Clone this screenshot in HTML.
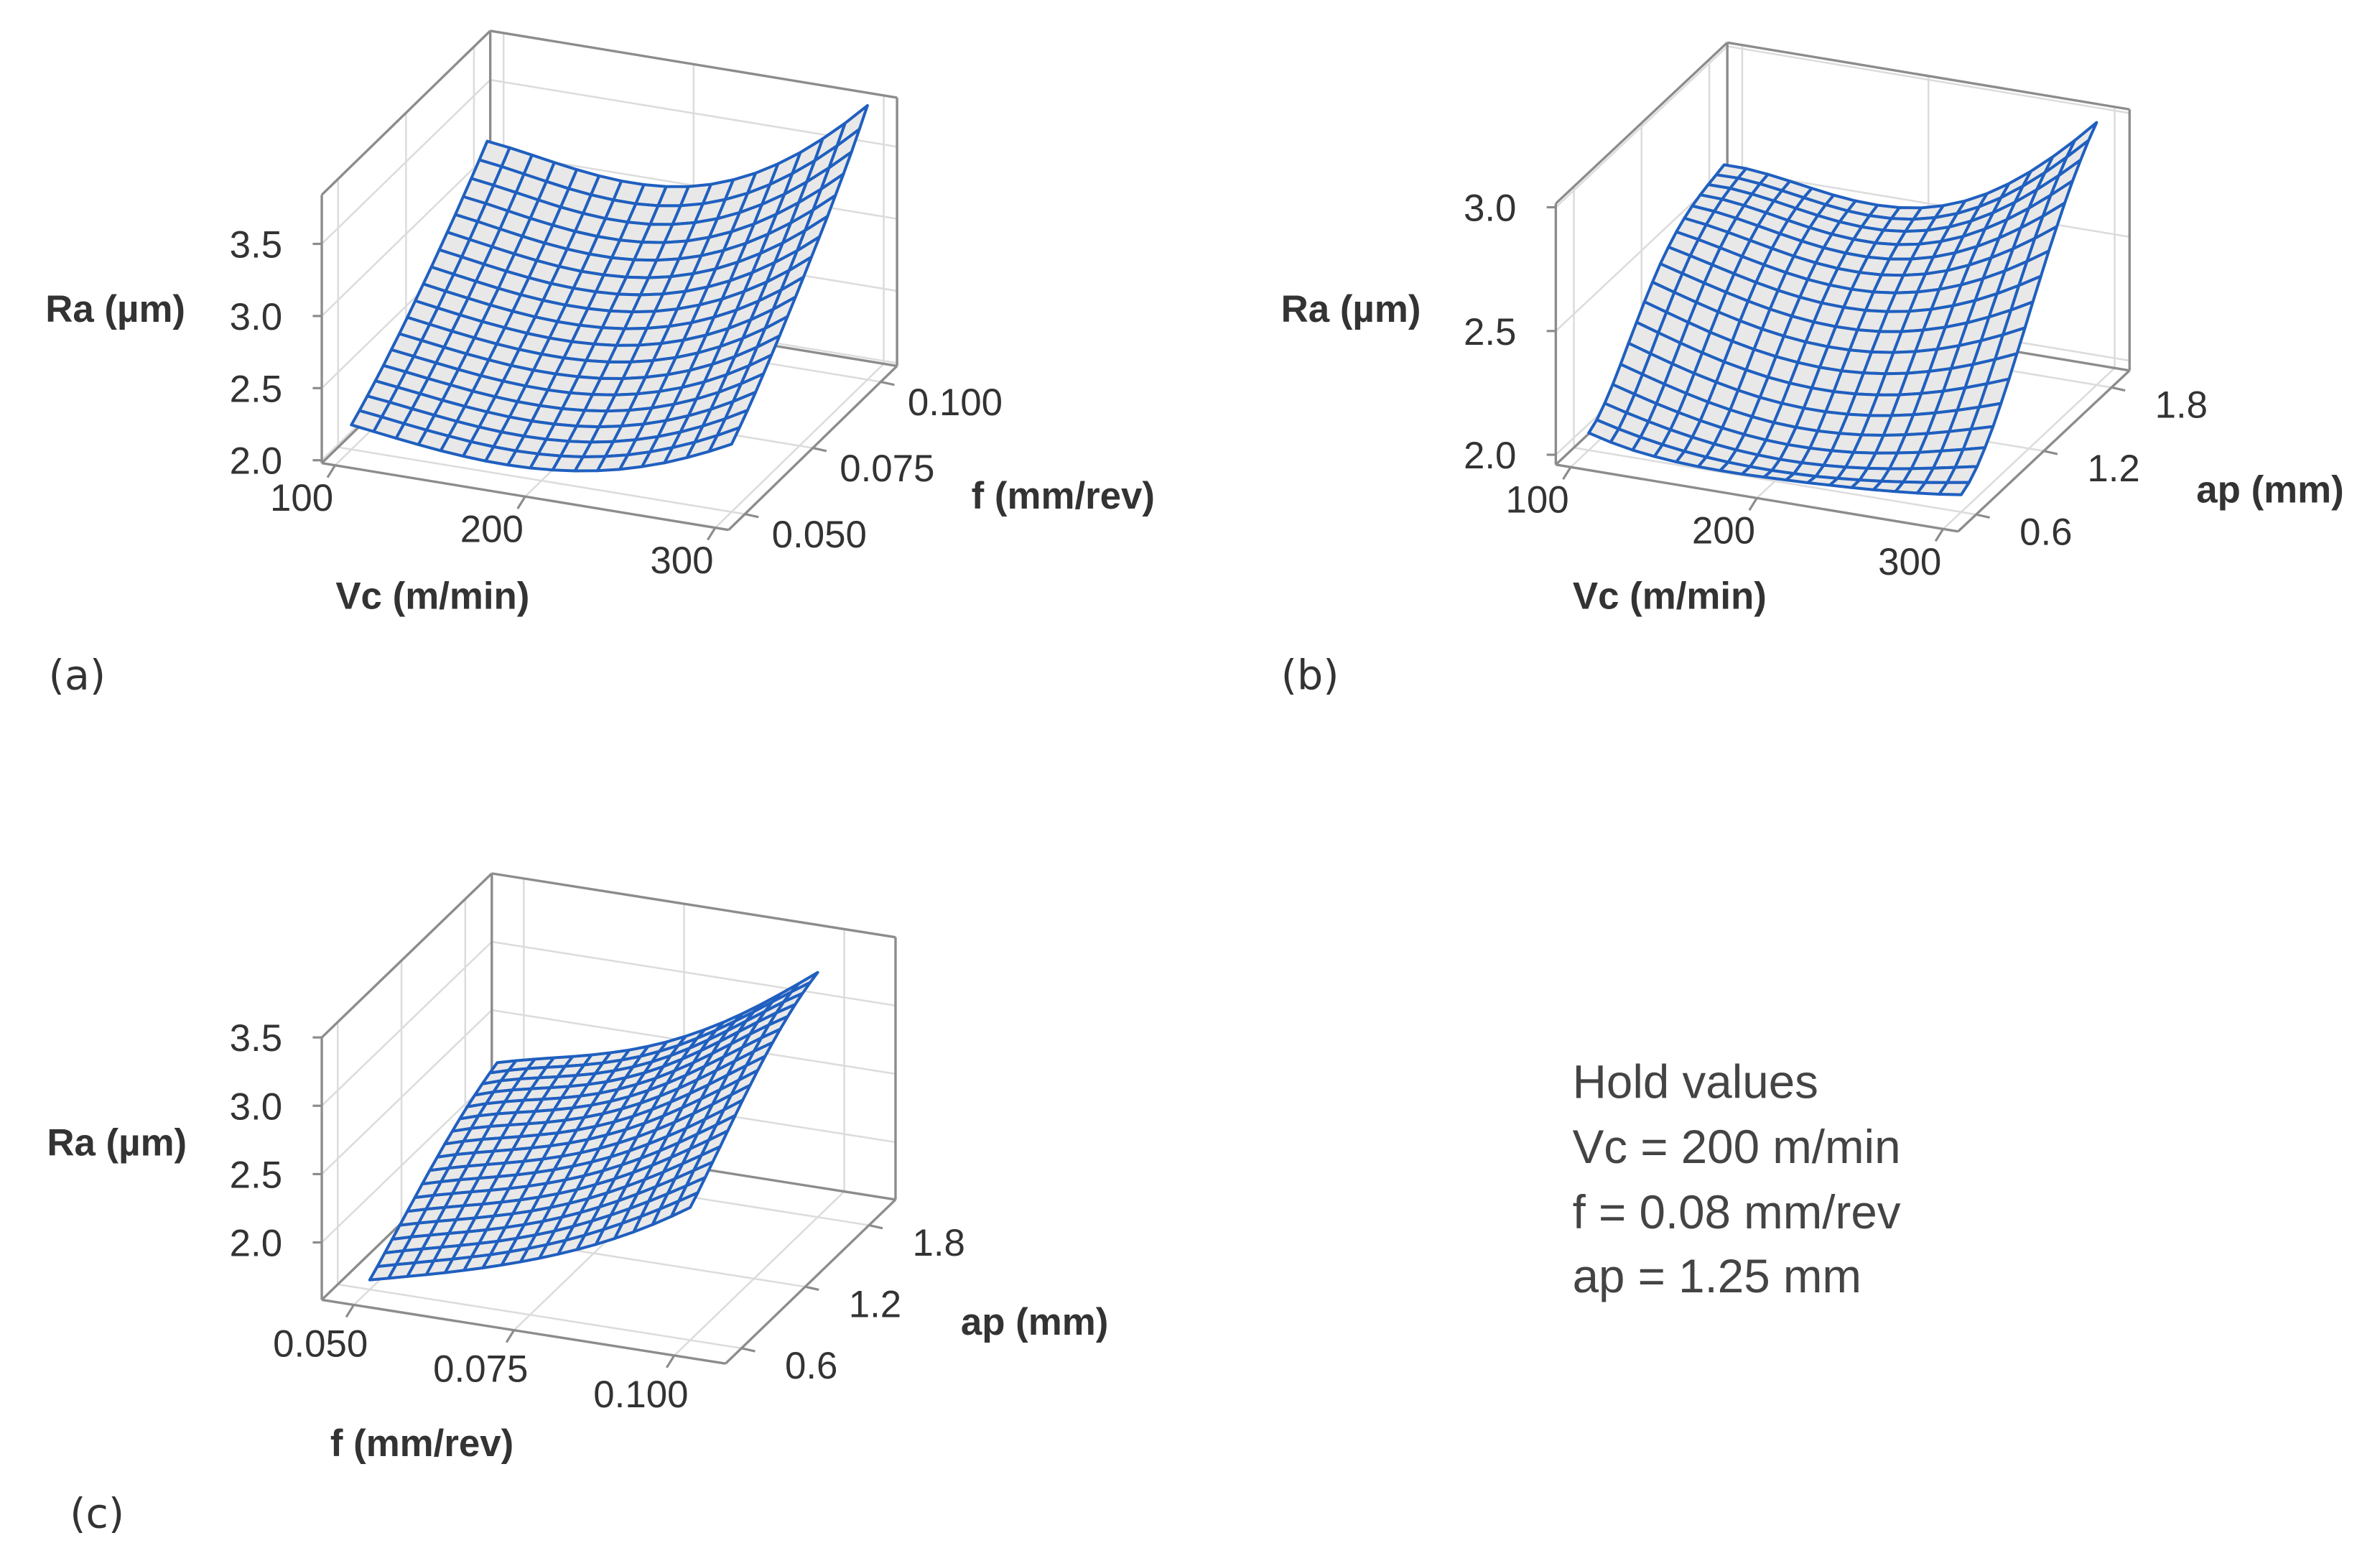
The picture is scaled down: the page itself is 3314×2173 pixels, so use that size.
<!DOCTYPE html>
<html><head><meta charset="utf-8"><style>
html,body{margin:0;padding:0;background:#fff;}
svg{display:block;}
text{font-family:"Liberation Sans",Arial,sans-serif;}
</style></head><body>
<svg id="fig" xmlns="http://www.w3.org/2000/svg" width="3314" height="2173" viewBox="0 0 1568 1028" preserveAspectRatio="none">
<rect x="0" y="0" width="1568" height="1028" fill="#fff"/>
<g id="pa"></g>
<g id="pb"></g>
<g id="pc"></g>
<text x="32" y="454" font-size="27" fill="#333" style="font-family:'DejaVu Sans',sans-serif">(a)</text>
<text x="844" y="454" font-size="27" fill="#333" style="font-family:'DejaVu Sans',sans-serif">(b)</text>
<text x="46" y="1006" font-size="27" fill="#333" style="font-family:'DejaVu Sans',sans-serif">(c)</text>
<g font-size="31" fill="#444" style="font-family:'DejaVu Sans',sans-serif">
<text x="1036" y="723">Hold values</text>
<text x="1036" y="766">Vc = 200 m/min</text>
<text x="1036" y="809">f = 0.08 mm/rev</text>
<text x="1036" y="851">ap = 1.25 mm</text>
</g>
</svg>
<script>
// ---------- Panel (a): Ra vs Vc, f ----------
const aVc = [100,150,200,250,300];
const aF = [0.05,0.0625,0.075,0.0875,0.1];
const aRa = [ // rows: Vc, cols: f
 [2.15,2.36,2.61,2.89,3.20],
 [2.07,2.28,2.52,2.79,3.10],
 [2.06,2.27,2.52,2.79,3.10],
 [2.18,2.41,2.69,3.00,3.35],
 [2.45,2.74,3.08,3.45,3.88]];
const aUTicks = [100,200,300];
const aVTicks = [0.05,0.075,0.1];
const aUTickLabels = ["100","200","300"];
const aVTickLabels = ["0.050","0.075","0.100"];
const aZTicks = [2.0,2.5,3.0,3.5];
const aZTickLabels = ["2.0","2.5","3.0","3.5"];

// ---------- Panel (b): Ra vs Vc, ap ----------
const bVc = [100,150,200,250,300];
const bAp = [0.6,0.9,1.2,1.5,1.8];
const bRa = [
 [2.03,2.20,2.42,2.55,2.60],
 [1.97,2.10,2.32,2.49,2.56],
 [1.97,2.06,2.28,2.46,2.55],
 [1.99,2.10,2.34,2.56,2.70],
 [2.03,2.20,2.50,2.80,3.02]];
const bUTicks = [100,200,300];
const bVTicks = [0.6,1.2,1.8];
const bUTickLabels = ["100","200","300"];
const bVTickLabels = ["0.6","1.2","1.8"];
const bZTicks = [2.0,2.5,3.0];
const bZTickLabels = ["2.0","2.5","3.0"];

// ---------- Panel (c): Ra vs f, ap ----------
const cF = [0.05,0.0625,0.075,0.0875,0.1];
const cAp = [0.6,0.9,1.2,1.5,1.8];
const cRa = [
 [1.65,1.85,2.05,2.22,2.34],
 [1.80,2.00,2.20,2.37,2.48],
 [1.98,2.18,2.38,2.55,2.66],
 [2.22,2.45,2.67,2.87,2.96],
 [2.55,2.80,3.05,3.25,3.37]];
const cUTicks = [0.05,0.075,0.1];
const cVTicks = [0.6,1.2,1.8];
const cUTickLabels = ["0.050","0.075","0.100"];
const cVTickLabels = ["0.6","1.2","1.8"];
const cZTicks = [2.0,2.5,3.0,3.5];
const cZTickLabels = ["2.0","2.5","3.0","3.5"];

const NS="http://www.w3.org/2000/svg";
function mk(tag, attrs, parent){const e=document.createElementNS(NS,tag);for(const k in attrs)e.setAttribute(k,attrs[k]);parent.appendChild(e);return e;}

function lagr(nodes, vals, x){
  let s=0;
  for(let i=0;i<nodes.length;i++){let p=vals[i];for(let j=0;j<nodes.length;j++){if(j!==i)p*=(x-nodes[j])/(nodes[i]-nodes[j]);}s+=p;}
  return s;
}
function interp2(us, vs, grid, u, v){
  const col = us.map((_,i)=>lagr(vs, grid[i], v));
  return lagr(us, col, u);
}

function drawPanel(g, cfg){
  const P=(u,v,z)=>{
    const tu=(u-cfg.u0)/(cfg.u1-cfg.u0), tv=(v-cfg.v0)/(cfg.v1-cfg.v0);
    return [cfg.O[0]+tu*cfg.U[0]+tv*cfg.V[0], cfg.O[1]+tu*cfg.U[1]+tv*cfg.V[1]-(z-cfg.zmin)*cfg.zppu];
  };
  const L=(a,b,stroke,w,name)=>{const l=mk('line',{x1:a[0],y1:a[1],x2:b[0],y2:b[1],stroke:stroke,'stroke-width':w},g);
    
    
    return l;};
  const {u0,u1,v0,v1,zmin,zmax}=cfg;
  const grid='#dcdcdc', edge='#8c8c8c';
  cfg.zTicks.forEach(z=>{L(P(u0,v0,z),P(u0,v1,z),grid,1.2,'gridline-z');L(P(u0,v1,z),P(u1,v1,z),grid,1.2,'gridline-z');});
  cfg.uTicks.forEach(u=>{L(P(u,v1,zmin),P(u,v1,zmax),grid,1.2,'gridline-x');L(P(u,v0,zmin),P(u,v1,zmin),grid,1.2,'gridline-x');});
  cfg.vTicks.forEach(v=>{L(P(u0,v,zmin),P(u0,v,zmax),grid,1.2,'gridline-y');L(P(u0,v,zmin),P(u1,v,zmin),grid,1.2,'gridline-y');});
  const E=[[[u0,v0,zmin],[u1,v0,zmin]],[[u1,v0,zmin],[u1,v1,zmin]],[[u0,v0,zmin],[u0,v1,zmin]],[[u0,v1,zmin],[u1,v1,zmin]],
           [[u0,v0,zmin],[u0,v0,zmax]],[[u0,v1,zmin],[u0,v1,zmax]],[[u1,v1,zmin],[u1,v1,zmax]],
           [[u0,v0,zmax],[u0,v1,zmax]],[[u0,v1,zmax],[u1,v1,zmax]]];
  E.forEach(e=>L(P(...e[0]),P(...e[1]),edge,1.6,'box-edge'));
  cfg.zTicks.forEach((z,i)=>{const p=P(u0,v0,z);L([p[0]-6,p[1]],p,edge,1.5,'z-tick');
    const t=mk('text',{x:p[0]-cfg.zlabDx,y:p[1]+9,'font-size':25,'text-anchor':'end',fill:'#333'},g);t.textContent=cfg.zLabels[i];
    
    });
  cfg.uTicks.forEach((u,i)=>{const p=P(u,v0,zmin);L(p,[p[0]-5,p[1]+8],edge,1.5,'x-tick');
    const t=mk('text',{x:p[0]+cfg.ulab[0],y:p[1]+cfg.ulab[1],'font-size':25,'text-anchor':'middle',fill:'#333'},g);t.textContent=cfg.uLabels[i];
    
    });
  cfg.vTicks.forEach((v,i)=>{const p=P(u1,v,zmin);L(p,[p[0]+9,p[1]+2],edge,1.5,'y-tick');
    const t=mk('text',{x:p[0]+cfg.vlab[0],y:p[1]+cfg.vlab[1],'font-size':25,'text-anchor':'middle',fill:'#333'},g);t.textContent=cfg.vLabels[i];
    
    });
  cfg.titles.forEach(tt=>{const t=mk('text',{x:tt[0],y:tt[1],'font-size':25,'font-weight':'bold','text-anchor':tt[3]||'middle',fill:'#333'},g);t.textContent=tt[2];
    
    });
  const N=18, us=cfg.us, vs=cfg.vs;
  const gu=[],gv=[];
  for(let i=0;i<N;i++){gu.push(us[0]+(us[us.length-1]-us[0])*i/(N-1));gv.push(vs[0]+(vs[vs.length-1]-vs[0])*i/(N-1));}
  const pts=gu.map(u=>gv.map(v=>P(u,v,interp2(us,vs,cfg.Z,u,v))));
  const quads=[];
  for(let i=0;i<N-1;i++)for(let j=0;j<N-1;j++){quads.push({i,j,d:(j)-(i)*0.6});}
  quads.sort((a,b)=>b.d-a.d);
  const sg=mk('g',{},g);
  
  
  quads.forEach(q=>{const a=pts[q.i][q.j],b=pts[q.i+1][q.j],c=pts[q.i+1][q.j+1],d=pts[q.i][q.j+1];
    const p=mk('polygon',{points:[a,b,c,d].map(x=>x[0].toFixed(1)+','+x[1].toFixed(1)).join(' '),fill:'#e8e8e8',stroke:'#1f5fbf','stroke-width':1.9,'stroke-linejoin':'round'},sg);
    
    });
}

drawPanel(document.getElementById('pa'),{O:[212,305],U:[268,44],V:[111,-108],u0:93,u1:307,v0:0.044,v1:0.106,zmin:1.98,zmax:3.84,zppu:95,
  us:aVc,vs:aF,Z:aRa,uTicks:aUTicks,vTicks:aVTicks,zTicks:aZTicks,uLabels:aUTickLabels,vLabels:aVTickLabels,zLabels:aZTickLabels,
  zlabDx:26,ulab:[-22,30],vlab:[49,22],
  titles:[[76,212,'Ra (µm)','middle','z-axis-title'],[285,401,'Vc (m/min)','middle','x-axis-title'],[640,335,'f (mm/rev)','start','y-axis-title']]});
drawPanel(document.getElementById('pb'),{O:[1025,306],U:[265,44],V:[113,-106],u0:92,u1:308,v0:0.44,v1:1.96,zmin:1.96,zmax:3.015,zppu:163,
  us:bVc,vs:bAp,Z:bRa,uTicks:bUTicks,vTicks:bVTicks,zTicks:bZTicks,uLabels:bUTickLabels,vLabels:bVTickLabels,zLabels:bZTickLabels,
  zlabDx:26,ulab:[-22,30],vlab:[46,20],
  titles:[[890,212,'Ra (µm)','middle','z-axis-title'],[1100,401,'Vc (m/min)','middle','x-axis-title'],[1447,331,'ap (mm)','start','y-axis-title']]});
drawPanel(document.getElementById('pc'),{O:[212,856],U:[266,42],V:[112,-108],u0:0.045,u1:0.108,v0:0.45,v1:2.05,zmin:1.58,zmax:3.5,zppu:90,
  us:cF,vs:cAp,Z:cRa,uTicks:cUTicks,vTicks:cVTicks,zTicks:cZTicks,uLabels:cUTickLabels,vLabels:cVTickLabels,zLabels:cZTickLabels,
  zlabDx:26,ulab:[-22,34],vlab:[46,20],
  titles:[[77,761,'Ra (µm)','middle','z-axis-title'],[278,959,'f (mm/rev)','middle','x-axis-title'],[633,879,'ap (mm)','start','y-axis-title']]});
</script>
</body></html>
